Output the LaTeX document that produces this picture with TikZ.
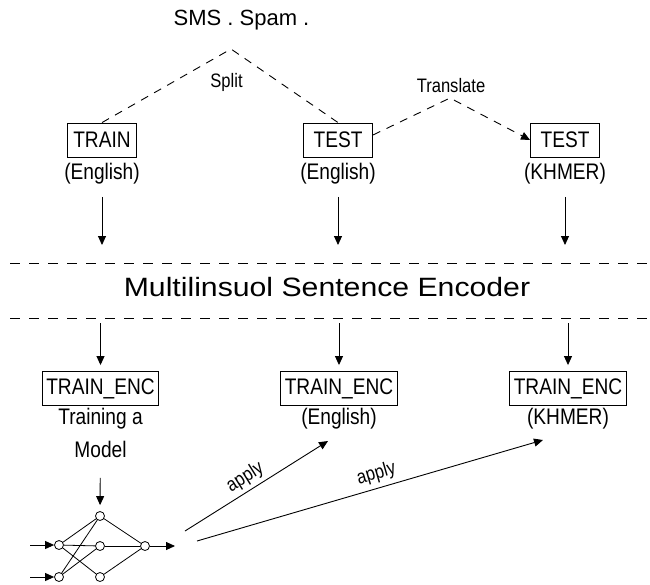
\documentclass[tikz,border=0pt]{standalone}
\usepackage{fontspec}
\setmainfont{Liberation Sans}
\newfontfamily\etroit{Liberation Sans}[FakeStretch=0.85]
\newfontfamily\encfont{Liberation Sans}[FakeStretch=1.14]
\usetikzlibrary{arrows.meta,positioning,calc}
\tikzset{
  cadre/.style={rectangle, draw, line width=0.9pt, minimum width=69pt, minimum height=34pt,
                inner xsep=4pt, font=\etroit\fontsize{22.5}{27}\selectfont},
  legende/.style={align=center, inner sep=1pt, font=\etroit\fontsize{22.5}{33}\selectfont},
  petit/.style={inner sep=1pt, font=\etroit\fontsize{19.5}{23}\selectfont},
  arr/.style={-{Triangle[length=9pt,width=8pt]}, line width=0.9pt},
  pointille/.style={line width=0.9pt, dash pattern=on 8pt off 7pt},
  bande/.style={line width=0.9pt, dash pattern=on 10pt off 9pt},
  neurone/.style={circle, draw, line width=0.8pt, minimum size=9pt, inner sep=0pt},
  lien/.style={line width=0.8pt},
}
\begin{document}
\begin{tikzpicture}[x=1pt, y=-1pt, node distance=5pt]
  \useasboundingbox (0,0) rectangle (650,584);
  \node[anchor=base, font=\fontsize{22}{26}\selectfont] (sms) at (241.5,25.7) {SMS . Spam .};
  \coordinate (ssplit) at (231,49);
  \node[petit, anchor=base] (split) at (226.5,87) {Split};
  \node[cadre] (tr) at (102,140) {TRAIN};
  \node[cadre] (te) at (338,140) {TEST};
  \node[cadre] (tk) at (565,140) {TEST};
  \node[legende, below=of tr] (tre) {(English)};
  \node[legende, below=of te] (tee) {(English)};
  \node[legende, below=of tk] (tke) {(KHMER)};
  \coordinate (stransl) at (450,98);
  \node[petit, anchor=base] (transl) at (451,92) {Translate};
  \draw[pointille] (tr.north) -- (ssplit) -- (te.north);
  \draw[pointille, arr] ([yshift=5pt]te.east) -- (stransl) -- (tk.west);

  \node[anchor=base, font=\encfont\fontsize{26.5}{30}\selectfont] (enc) at (327,296)
    {Multilinsuol Sentence Encoder};
  \coordinate (bh) at (10,263); \coordinate (bb) at (10,318);
  \draw[bande] (bh) -- ++(640,0); \draw[bande] (bb) -- ++(640,0);
  \draw[arr, shorten <=11pt, shorten >=18pt] (tre) -- (tre |- bh);
  \draw[arr, shorten <=11pt, shorten >=18pt] (tee) -- (tee |- bh);
  \draw[arr, shorten <=11pt, shorten >=18pt] (tke) -- (tke |- bh);

  \node[cadre] (etr) at (100.5,388.5) {TRAIN\_ENC};
  \node[cadre] (ete) at (339,388.5) {TRAIN\_ENC};
  \node[cadre] (etk) at (568,388.5) {TRAIN\_ENC};
  \node[legende, below=1pt of etr] (ltr) {Training a\\Model};
  \node[legende, below=1pt of ete] (lte) {(English)};
  \node[legende, below=1pt of etk] (ltk) {(KHMER)};
  \draw[arr, shorten <=5pt, shorten >=6pt] (etr |- bb) -- (etr);
  \draw[arr, shorten <=5pt, shorten >=6pt] (ete |- bb) -- (ete);
  \draw[arr, shorten <=5pt, shorten >=6pt] (etk |- bb) -- (etk);

  \node[neurone] (i1) at (59,545) {};
  \node[neurone] (i2) at (59,577) {};
  \node[neurone] (h1) at (100,516) {};
  \node[neurone] (h2) at (100,546) {};
  \node[neurone] (h3) at (100,577) {};
  \node[neurone] (o) at (145,546) {};
  \foreach \a/\b in {i1/h1,i1/h2,i1/h3,i2/h1,i2/h2,h1/o,h2/o,h3/o}
    \draw[lien] (\a) -- (\b);
  \coordinate (e1) at (30,545); \coordinate (e2) at (30,577); \coordinate (s1) at (175,546);
  \draw[arr] (e1) -- (i1); \draw[arr] (e2) -- (i2); \draw[arr] (o) -- (s1);
  \draw[arr, shorten <=19pt, shorten >=6pt] (ltr) -- (h1);

  \coordinate (a1) at (185,531); \coordinate (b1) at (328,441);
  \coordinate (a2) at (197,541); \coordinate (b2) at (543,440);
  \draw[arr] (a1) -- node[petit, sloped, above, pos=0.47, inner sep=3.5pt] {apply} (b1);
  \draw[arr] (a2) -- node[petit, sloped, above, pos=0.53, inner sep=4.5pt] {apply} (b2);
\end{tikzpicture}
\end{document}
